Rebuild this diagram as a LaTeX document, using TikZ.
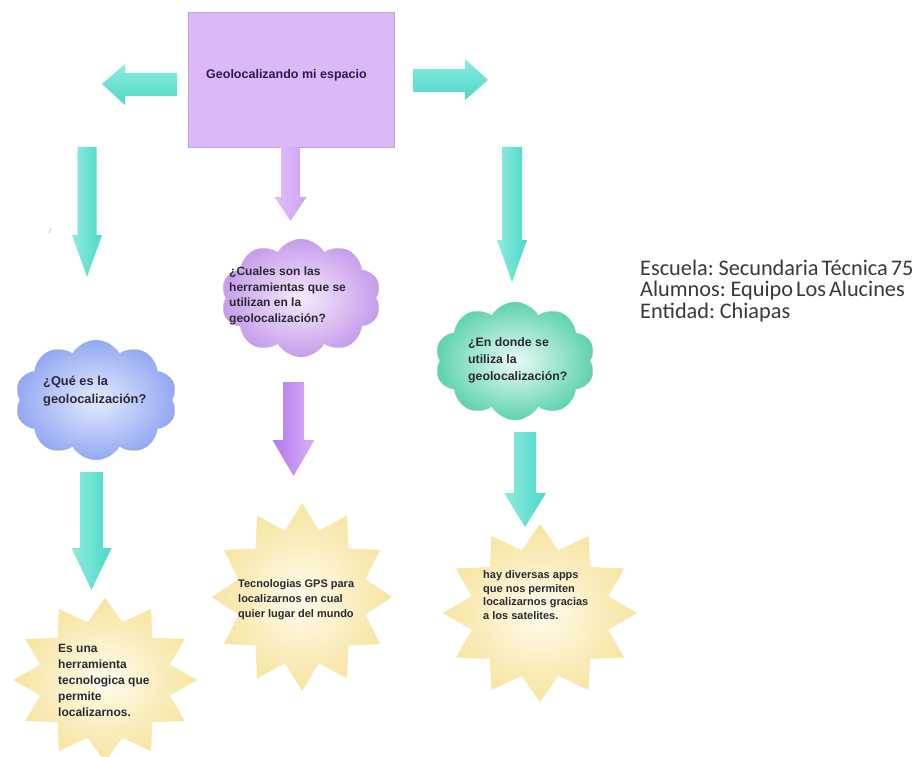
\documentclass[tikz,border=0pt]{standalone}
\usepackage{fontspec}
\setmainfont{Liberation Sans}
\newfontfamily\calibfont[WordSpace=0.6]{Carlito}
\usetikzlibrary{shapes.symbols}
\definecolor{boxfill}{HTML}{DCB8F8}
\definecolor{boxline}{HTML}{C0A2DC}
\definecolor{boxtext}{HTML}{2E1A50}
\definecolor{cyanA}{HTML}{8EEBDF}
\definecolor{cyanB}{HTML}{4CD8C8}
\definecolor{purpA}{HTML}{E0BEFA}
\definecolor{purpB}{HTML}{CFA2F3}
\definecolor{violA}{HTML}{B477EE}
\definecolor{violB}{HTML}{D8B0F8}
\definecolor{blueIn}{HTML}{E4EAFF}
\definecolor{blueOut}{HTML}{93A8F2}
\definecolor{lilaIn}{HTML}{F6EBFD}
\definecolor{lilaOut}{HTML}{C69CEB}
\definecolor{greenIn}{HTML}{EAFBF6}
\definecolor{greenOut}{HTML}{5ED2B0}
\definecolor{starIn}{HTML}{FFFCEC}
\definecolor{starOut}{HTML}{F7E4A0}
\definecolor{darktext}{HTML}{2A2A35}
\definecolor{infotext}{HTML}{3A3A3A}
\tikzset{
  cyanv/.style={left color=cyanA, right color=cyanB},
  cyanh/.style={top color=cyanA, bottom color=cyanB},
  purpv/.style={left color=purpA, right color=purpB},
  violv/.style={left color=violA, right color=violB},
  cloudbox/.style={cloud, cloud puffs=10, cloud puff arc=120, aspect=1.5, inner sep=0pt, shading=radial},
  starfill/.style={shading=radial, inner color=starIn, outer color=starOut},
  qtext/.style={anchor=west, align=left, text=darktext, inner sep=0pt},
}
\newcommand\darr[7]{\shade[#1] ({#2-#3},#5) -- ({#2+#3},#5) -- ({#2+#3},#6) -- ({#2+#4},#6) -- (#2,#7) -- ({#2-#4},#6) -- ({#2-#3},#6) -- cycle;}
\newcommand\burst[4]{%
  \begin{scope}[shift={(#1,#2)}, x=#3pt, y=#4pt]
    \shade[starfill] (90:1) \foreach \i in {1,...,23} {-- ({90+\i*15}:{1-0.27*mod(\i,2)})} -- cycle;
  \end{scope}}
\begin{document}
\begin{tikzpicture}[x=1pt,y=-1pt]
\useasboundingbox[fill=white] (0,0) rectangle (919,757);

% top box
\node[rectangle, fill=boxfill, draw=boxline, line width=0.6pt, minimum width=206pt, minimum height=135pt, inner sep=0pt] (topbox) at (291,79.5) {};
\node[anchor=west, inner sep=0pt, text=boxtext, font={\fontsize{12.5}{15}\selectfont\bfseries}] (title) at (206,75) {Geolocalizando mi espacio};

% horizontal arrows
\shade[cyanh] (102,84) -- (125,64) -- (125,73) -- (177,73) -- (177,96) -- (125,96) -- (125,105) -- cycle;
\shade[cyanh] (413,69) -- (465,69) -- (465,59) -- (488,80) -- (465,100) -- (465,92) -- (413,92) -- cycle;

% first row of down arrows
\darr{cyanv}{87}{9.5}{15}{147}{235}{277}
\darr{purpv}{290.5}{9.5}{16}{147}{197}{221}
\darr{cyanv}{512}{10}{15}{147}{240}{282}

% stray mark
\draw[gray!55, line width=0.6pt] (49,233) -- (51,228);

% clouds
\node[cloudbox, inner color=blueIn, outer color=blueOut, draw=blueOut!85!black!60, line width=0.3pt, minimum width=162pt, minimum height=120pt] (qcloud) at (96,400) {};
\node[qtext, font={\fontsize{12.8}{18}\selectfont\bfseries}] (qtxt) at (43,391) {¿Qué es la\\geolocalización?};

\node[cloudbox, inner color=lilaIn, outer color=lilaOut, draw=lilaOut!85!black!60, line width=0.3pt, minimum width=160pt, minimum height=118pt] (hcloud) at (301,298) {};
\node[qtext, font={\fontsize{12}{15.5}\selectfont\bfseries}] (htxt) at (229,296) {¿Cuales son las\\herramientas que se\\utilizan en la\\geolocalización?};

\node[cloudbox, inner color=greenIn, outer color=greenOut, draw=greenOut!85!black!60, line width=0.3pt, minimum width=160pt, minimum height=118pt] (dcloud) at (515,361) {};
\node[qtext, font={\fontsize{12.3}{17}\selectfont\bfseries}] (dtxt) at (468,360) {¿En donde se\\utiliza la\\geolocalización?};

% second row of down arrows
\darr{cyanv}{91.5}{11.5}{20}{472}{548}{590}
\darr{violv}{293.5}{10.5}{21}{382}{440}{476}
\darr{cyanv}{525}{11}{21}{432}{493}{527}

% starbursts
\burst{105}{680}{92}{82}
\burst{302}{597}{90}{94}
\burst{540}{613}{97}{89}
\node[qtext, font={\fontsize{12}{16}\selectfont\bfseries}] (s1) at (58,680) {Es una\\herramienta\\tecnologica que\\permite\\localizarnos.};
\node[qtext, font={\fontsize{11}{15}\selectfont\bfseries}] (s2) at (238,600) {Tecnologias GPS para\\localizarnos en cual\\quier lugar del mundo};
\node[qtext, font={\fontsize{11}{13.5}\selectfont\bfseries}] (s3) at (483,595) {hay diversas apps\\que nos permiten\\localizarnos gracias\\a los satelites.};

% info
\node[anchor=west, align=left, inner sep=0pt, text=infotext, font={\calibfont\fontsize{22.3}{21.5}\selectfont}] (info) at (640,291) {Escuela: Secundaria Técnica 75\\Alumnos: Equipo Los Alucines\\Entidad: Chiapas};
\end{tikzpicture}
\end{document}
